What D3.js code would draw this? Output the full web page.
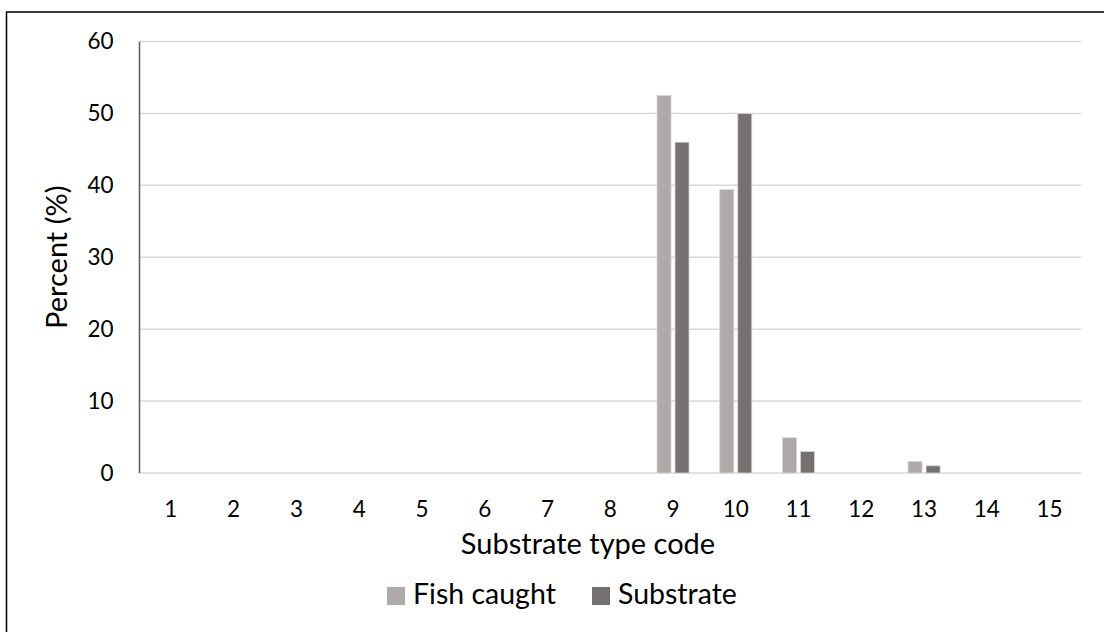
<!DOCTYPE html>
<html>
<head>
<meta charset="utf-8">
<script src="https://cdn.jsdelivr.net/npm/d3@7"></script>
<style>
  html, body { margin: 0; padding: 0; background: #fff; }
  svg { display: block; }
  text { font-family: Lato, "Open Sans", sans-serif; fill: #000; }
</style>
</head>
<body>
<svg id="chart" width="1104" height="632"></svg>
<script>
// Substrate type codes on the x axis
const categories = ["1","2","3","4","5","6","7","8","9","10","11","12","13","14","15"];
// Percent of fish caught over each substrate type
const fishCaught = [0,0,0,0,0,0,0,0,52.5,39.4,4.9,0,1.6,0,0];
// Percent of sampled substrate of each type
const substrate  = [0,0,0,0,0,0,0,0,46,50,3,0,1,0,0];
const seriesNames = ["Fish caught", "Substrate"];
const yTicks = [0,10,20,30,40,50,60];

const colors = { "Fish caught": "#aeaaaa", "Substrate": "#767171" };

const svg = d3.select("#chart");
const W = 1104, H = 632;
const plot = { left: 139.5, right: 1081, top: 41.5, bottom: 473 };

// Outer chart frame
svg.append("rect")
  .attr("x", 6.5).attr("y", 12)
  .attr("width", W).attr("height", H)
  .attr("fill", "none").attr("stroke", "#000").attr("stroke-width", 1.5);

const x = d3.scaleBand().domain(categories).range([plot.left, plot.right]).padding(0);
const y = d3.scaleLinear().domain([0, 60]).range([plot.bottom, plot.top]);

// Horizontal gridlines
svg.append("g").selectAll("line").data(yTicks).join("line")
  .attr("x1", plot.left).attr("x2", plot.right)
  .attr("y1", d => y(d)).attr("y2", d => y(d))
  .attr("stroke", "#d9d9d9").attr("stroke-width", 1.5);

// Y axis tick labels
const yAxis = d3.axisLeft(y).tickValues(yTicks).tickSize(0).tickPadding(26);
const gy = svg.append("g").attr("transform", `translate(${plot.left},0)`).call(yAxis);
gy.select(".domain").remove();
gy.selectAll("text").attr("font-size", 22.5).style("font-family", "Lato, sans-serif").attr("fill", "#000");

// Grouped bars: two series side by side within each category
const inner = d3.scaleBand().domain(seriesNames).range([0, x.bandwidth()])
  .paddingInner(0.222).paddingOuter(0.855);
const rows = categories.map((c, i) => ({ cat: c, values: [fishCaught[i], substrate[i]] }));

const groups = svg.append("g").selectAll("g").data(rows).join("g")
  .attr("transform", d => `translate(${x(d.cat)},0)`);
groups.selectAll("rect")
  .data(d => d.values.map((v, j) => ({ name: seriesNames[j], value: v })).filter(e => e.value > 0))
  .join("rect")
  .attr("x", d => inner(d.name))
  .attr("width", inner.bandwidth())
  .attr("y", d => y(d.value))
  .attr("height", d => y(0) - y(d.value))
  .attr("fill", d => colors[d.name])
  .attr("stroke", "#d6d4d4").attr("stroke-width", 0.8);

// Y axis line
svg.append("line")
  .attr("x1", plot.left).attr("x2", plot.left)
  .attr("y1", plot.top).attr("y2", plot.bottom)
  .attr("stroke", "#595959").attr("stroke-width", 1.5);

// X axis tick labels
const xAxis = d3.axisBottom(x).tickSize(0).tickPadding(28);
const gx = svg.append("g").attr("transform", `translate(0,${plot.bottom})`).call(xAxis);
gx.select(".domain").remove();
gx.selectAll("text").attr("font-size", 22.5).style("font-family", "Lato, sans-serif").attr("fill", "#000");

// Axis titles
svg.append("text")
  .attr("x", 588).attr("y", 553.5)
  .attr("text-anchor", "middle").attr("font-size", 29)
  .text("Substrate type code");

svg.append("text")
  .attr("transform", `translate(67,${(plot.top + plot.bottom) / 2}) rotate(-90)`)
  .attr("text-anchor", "middle").attr("font-size", 29)
  .text("Percent (%)");

// Legend
const legendItems = [
  { name: "Fish caught", x: 387 },
  { name: "Substrate", x: 592 }
];
const lg = svg.append("g").selectAll("g").data(legendItems).join("g")
  .attr("transform", d => `translate(${d.x},587)`);
lg.append("rect").attr("width", 18).attr("height", 18).attr("fill", d => colors[d.name]);
lg.append("text").attr("x", 26).attr("y", 17).attr("font-size", 28.5).text(d => d.name);
</script>
</body>
</html>
